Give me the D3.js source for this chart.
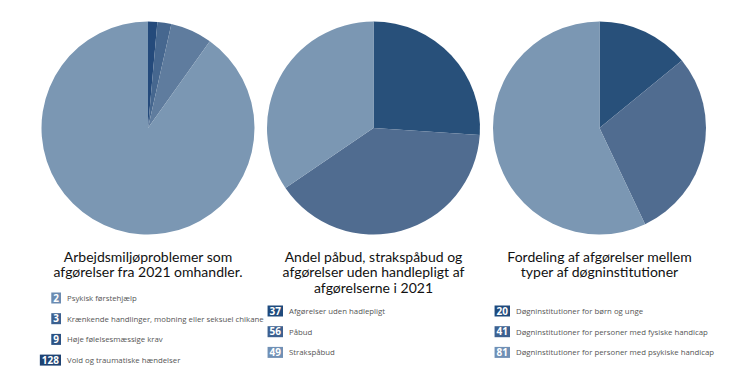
<!DOCTYPE html>
<html><head><meta charset="utf-8">
<script src="https://cdn.jsdelivr.net/npm/d3@7"></script>
<style>body{margin:0;background:#fff}svg{display:block}</style>
</head><body>
<svg id="c" width="747" height="375"></svg>
<script>
// ---- data ----
const titles1 = ["Arbejdsmiljøproblemer som", "afgørelser fra 2021 omhandler."];
const labels1 = ["Psykisk førstehjælp", "Krænkende handlinger, mobning eller seksuel chikane", "Høje følelsesmæssige krav", "Vold og traumatiske hændelser"];
const values1 = [2, 3, 9, 128];

const titles2 = ["Andel påbud, strakspåbud og", "afgørelser uden handlepligt af", "afgørelserne i 2021"];
const labels2 = ["Afgørelser uden hadlepligt", "Påbud", "Strakspåbud"];
const values2 = [37, 56, 49];

const titles3 = ["Fordeling af afgørelser mellem", "typer af døgninstitutioner"];
const labels3 = ["Døgninstitutioner for børn og unge", "Døgninstitutioner for personer med fysiske handicap", "Døgninstitutioner for personer med psykiske handicap"];
const values3 = [20, 41, 81];

// ---- styles ----
const sliceColors1 = ["#244a7b", "#46678f", "#5f7c9e", "#7b97b3"];
const boxColors1 = ["#6b8bb1", "#3b6090", "#2b5283", "#1e4373"];
const sliceColors = ["#28507a", "#506c90", "#7b97b3"];
const boxColors = ["#1f4a7c", "#3d6190", "#7090b5"];

const charts = [
  {titles: titles1, labels: labels1, values: values1, slice: sliceColors1, box: boxColors1, cx: 148, legendY: 298, labelX: 67},
  {titles: titles2, labels: labels2, values: values2, slice: sliceColors, box: boxColors, cx: 373.5, legendY: 311, labelX: 289},
  {titles: titles3, labels: labels3, values: values3, slice: sliceColors, box: boxColors, cx: 599.5, legendY: 311, labelX: 516}
];

const svg = d3.select("#c");
const cy = 128, r = 106.5;
const titleFont = "Lato, 'Noto Sans', sans-serif";

charts.forEach(ch => {
  const g = svg.append("g").attr("transform", `translate(${ch.cx},${cy})`);
  const pie = d3.pie().sort(null).value(d => d)(ch.values);
  const arc = d3.arc().innerRadius(0).outerRadius(r);
  g.selectAll("path").data(pie).join("path")
    .attr("d", arc)
    .attr("fill", (d, i) => ch.slice[i]);

  const t = svg.append("g");
  t.selectAll("text").data(ch.titles).join("text")
    .attr("x", ch.cx)
    .attr("y", (d, i) => 261.5 + i * 15.5)
    .attr("text-anchor", "middle")
    .attr("font-family", titleFont)
    .attr("font-size", 14)
    .attr("fill", "#111")
    .text(d => d);

  const lg = svg.append("g");
  ch.labels.forEach((lab, i) => {
    const y = ch.legendY + i * 20.7;
    const row = lg.append("g");
    const num = row.append("text")
      .attr("y", y + 3.6)
      .attr("font-family", "'Open Sans', sans-serif")
      .attr("font-weight", "bold")
      .attr("font-size", 10)
      .attr("fill", "#fff")
      .attr("text-anchor", "middle")
      .text(ch.values[i]);
    const w = num.node().getComputedTextLength() + 4;
    const right = ch.labelX - 6;
    row.insert("rect", "text")
      .attr("x", right - w).attr("y", y - 5.5)
      .attr("width", w).attr("height", 11)
      .attr("fill", ch.box[i]);
    num.attr("x", right - w / 2);
    row.append("text")
      .attr("x", ch.labelX).attr("y", y + 3)
      .attr("font-family", "'Open Sans', sans-serif")
      .attr("font-size", 7.8)
      .attr("fill", "#555")
      .text(lab);
  });
});
</script>
</body></html>
